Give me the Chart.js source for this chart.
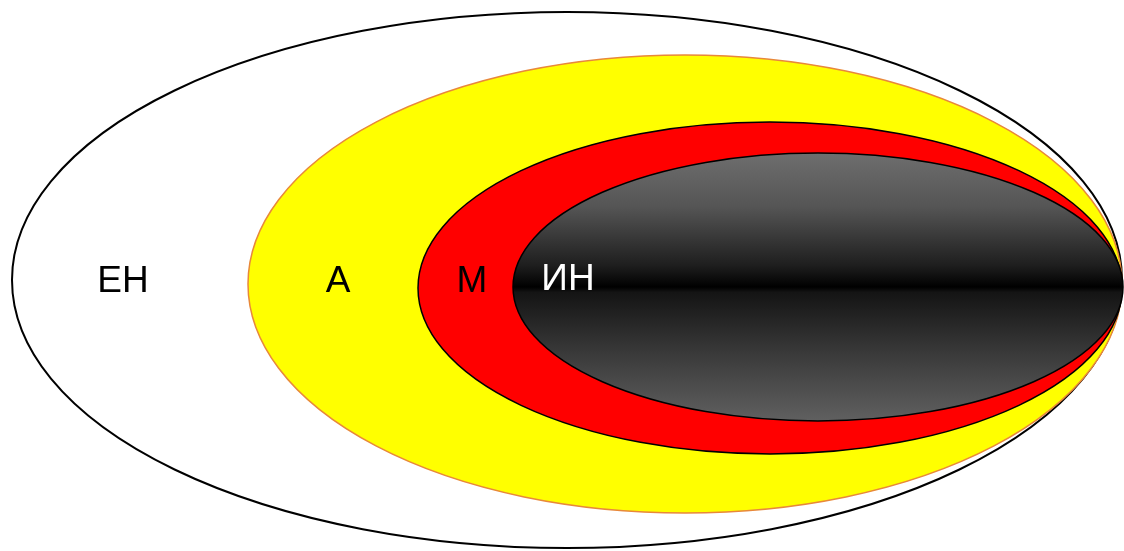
<!DOCTYPE html>
<html>
<head>
<meta charset="utf-8">
<script src="https://cdn.jsdelivr.net/npm/chart.js@4"></script>
<style>
  html, body { margin: 0; padding: 0; background: #fff; }
  #wrap { width: 1124px; height: 551px; }
</style>
</head>
<body>
<div id="wrap"><canvas id="zones-chart" width="1124" height="551"></canvas></div>
<script>
// zones, outer to inner
var zones = ["ЕН", "А", "М", "ИН"];
var centerX = [567, 685, 770, 818];
var centerY = [280, 284, 288, 287];
var radiusX = [555, 437, 352, 305];
var radiusY = [268, 229, 166, 134];
// label anchor points (same units)
var labelX = [123, 338, 472, 568];
var labelY = [282, 282, 282, 280];

var fills = ["#ffffff", "#ffff00", "#ff0000", "gradient"];
var strokes = ["#000000", "#e8883a", "#000000", "#000000"];
var strokeWidths = [2, 1.5, 1.5, 1.5];
var textColors = ["#000000", "#000000", "#000000", "#ffffff"];

var ellipsePlugin = {
    id: "ellipses",
    beforeDatasetsDraw: function(chart) {
        var ctx = chart.ctx;
        var xs = chart.scales.x;
        var ys = chart.scales.y;
        for (var i = 0; i < zones.length; i++) {
            var px = xs.getPixelForValue(centerX[i]);
            var py = ys.getPixelForValue(centerY[i]);
            var rx = Math.abs(xs.getPixelForValue(centerX[i] + radiusX[i]) - px);
            var ry = Math.abs(ys.getPixelForValue(centerY[i] + radiusY[i]) - py);
            ctx.save();
            ctx.beginPath();
            ctx.ellipse(px, py, rx, ry, 0, 0, Math.PI * 2);
            if (fills[i] === "gradient") {
                var g = ctx.createLinearGradient(0, py - ry, 0, py + ry);
                g.addColorStop(0, "#6e6e6e");
                g.addColorStop(0.2, "#555555");
                g.addColorStop(0.42, "#1e1e1e");
                g.addColorStop(0.5, "#000000");
                g.addColorStop(0.52, "#141414");
                g.addColorStop(0.75, "#3a3a3a");
                g.addColorStop(1, "#606060");
                ctx.fillStyle = g;
            } else {
                ctx.fillStyle = fills[i];
            }
            ctx.fill();
            ctx.lineWidth = strokeWidths[i];
            ctx.strokeStyle = strokes[i];
            ctx.stroke();
            ctx.restore();
        }
    },
    afterDatasetsDraw: function(chart) {
        var ctx = chart.ctx;
        var xs = chart.scales.x;
        var ys = chart.scales.y;
        ctx.save();
        ctx.font = "37px 'Liberation Sans', Arial, sans-serif";
        ctx.textAlign = "center";
        ctx.textBaseline = "middle";
        for (var i = 0; i < zones.length; i++) {
            ctx.fillStyle = textColors[i];
            ctx.fillText(zones[i], xs.getPixelForValue(labelX[i]), ys.getPixelForValue(labelY[i]));
        }
        ctx.restore();
    }
};

new Chart(document.getElementById("zones-chart"), {
    type: 'scatter',
    data: {
        datasets: [
            {
                label: 'zones',
                data: zones.map(function(z, i) { return { x: centerX[i], y: centerY[i] }; }),
                pointRadius: 0,
                pointHoverRadius: 0
            }
        ]
    },
    options: {
        responsive: false,
        animation: false,
        layout: { padding: 0 },
        plugins: {
            legend: { display: false },
            tooltip: { enabled: false },
            title: { display: false }
        },
        scales: {
            x: { type: 'linear', min: 0, max: 1124, display: false },
            y: { type: 'linear', min: 0, max: 551, reverse: true, display: false }
        }
    },
    plugins: [ellipsePlugin]
});
</script>
</body>
</html>
